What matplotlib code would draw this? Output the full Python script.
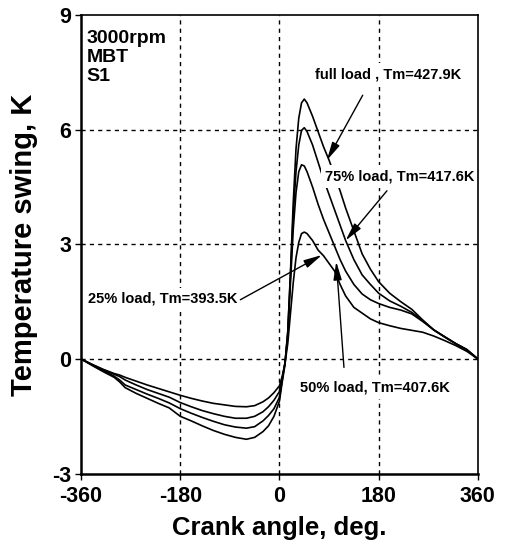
import matplotlib
matplotlib.use('Agg')
from matplotlib import pyplot as plt

plt.rcParams['font.family'] = ['Liberation Sans', 'DejaVu Sans']
plt.rcParams['font.weight'] = 'bold'
plt.rcParams['axes.unicode_minus'] = False

# crank angle points (deg)
angle = [-360, -340, -320, -300, -290, -280, -260, -240, -220, -200, -180, -160,
         -140, -120, -100, -80, -60, -45, -30, -20, -10, 0, 5, 10, 15, 20, 25, 30,
         35, 40, 45, 50, 60, 70, 80, 90, 100, 110, 120, 135, 150, 165, 180, 200,
         220, 240, 260, 280, 300, 320, 340, 360]

# temperature swing, K
full_load = [0, -0.17, -0.33, -0.48, -0.6, -0.75, -0.9, -1.03, -1.16, -1.28, -1.5, -1.62,
             -1.75, -1.87, -1.97, -2.05, -2.1, -2.05, -1.9, -1.75, -1.5, -1.1, -0.6, -0.15,
             0.7, 2.3, 4.1, 5.5, 6.3, 6.7, 6.8, 6.7, 6.35, 5.95, 5.55, 5.2, 4.8, 4.4, 3.95,
             3.35, 2.75, 2.35, 2.02, 1.72, 1.5, 1.3, 1.02, 0.76, 0.58, 0.4, 0.25, 0]
load_75 = [0, -0.15, -0.3, -0.45, -0.55, -0.68, -0.8, -0.92, -1.03, -1.15, -1.3, -1.42,
           -1.53, -1.63, -1.72, -1.78, -1.81, -1.77, -1.62, -1.48, -1.3, -1.0, -0.55, -0.1,
           0.7, 2.2, 3.8, 4.9, 5.6, 5.98, 6.05, 5.95, 5.6, 5.15, 4.7, 4.3, 3.9, 3.5, 3.1,
           2.6, 2.2, 1.95, 1.72, 1.52, 1.38, 1.22, 1.0, 0.76, 0.58, 0.4, 0.24, 0]
load_50 = [0, -0.15, -0.28, -0.4, -0.46, -0.55, -0.68, -0.8, -0.9, -1.0, -1.14, -1.25,
           -1.35, -1.43, -1.5, -1.55, -1.55, -1.5, -1.38, -1.25, -1.08, -0.85, -0.5, -0.1,
           0.6, 2.0, 3.4, 4.35, 4.9, 5.08, 5.05, 4.9, 4.5, 4.05, 3.65, 3.3, 2.95, 2.6, 2.3,
           1.95, 1.7, 1.55, 1.45, 1.35, 1.28, 1.18, 0.98, 0.76, 0.57, 0.4, 0.24, 0]
load_25 = [0, -0.14, -0.27, -0.38, -0.42, -0.48, -0.58, -0.68, -0.77, -0.86, -0.95, -1.03,
           -1.1, -1.16, -1.2, -1.24, -1.25, -1.22, -1.12, -1.02, -0.88, -0.7, -0.45, -0.12,
           0.4, 1.2, 2.0, 2.65, 3.05, 3.28, 3.32, 3.28, 3.1, 2.85, 2.7, 2.5, 2.3, 1.95, 1.65,
           1.35, 1.2, 1.05, 0.95, 0.87, 0.8, 0.75, 0.7, 0.6, 0.48, 0.35, 0.2, 0]

xticks = [-360, -180, 0, 180, 360]
yticks = [-3, 0, 3, 6, 9]

# label text, arrow tip (x, y), text anchor (x, y), alignment
labels = [
    ('full load , Tm=427.9K', (86, 5.2), (330, 7.45), 'right'),
    ('75% load, Tm=417.6K', (120, 3.1), (354, 4.78), 'right'),
    ('25% load, Tm=393.5K', (77, 2.72), (-76, 1.57), 'right'),
    ('50% load, Tm=407.6K', (103, 2.55), (38, -0.75), 'left'),
]
arrow_tails = [(151, 6.9), (195, 4.4), (-71, 1.55), (117, -0.22)]

fig = plt.figure(figsize=(5.10, 5.54), dpi=100)
ax = fig.add_axes([0.159, 0.145, 0.778, 0.828])

for series in [full_load, load_75, load_50, load_25]:
    ax.plot(angle, series, color='black', lw=1.2, zorder=3)

ax.set_xlim(-360, 360)
ax.set_ylim(-3, 9)
ax.set_xticks(xticks)
ax.set_yticks(yticks)
ax.tick_params(labelsize=15.5, length=4, width=1, direction='out')
ax.tick_params(axis='x', pad=5)
ax.tick_params(axis='y', pad=3)
for lab in ax.get_xticklabels() + ax.get_yticklabels():
    lab.set_fontweight('bold')

for gx in [-180, 0, 180]:
    ax.axvline(gx, color='black', lw=1, ls=(0, (3, 3)), zorder=1)
for gy in [0, 3, 6]:
    ax.axhline(gy, color='black', lw=1, ls=(0, (3, 3)), zorder=1)

ax.spines['left'].set_linewidth(1.8)
ax.spines['bottom'].set_linewidth(1.8)
ax.spines['top'].set_linewidth(1.2)
ax.spines['right'].set_linewidth(1.2)
for sp in ax.spines.values():
    sp.set_zorder(6)

ax.set_xlabel('Crank angle, deg.', fontsize=18.5, fontweight='bold', labelpad=6)
ax.set_ylabel('Temperature swing, K', fontsize=21, fontweight='bold', labelpad=10)

ax.text(-350, 8.6, '3000rpm\nMBT\nS1', fontsize=14, fontweight='bold',
        va='top', ha='left', linespacing=1.15)

for (txt, tip, pos, ha), tail in zip(labels, arrow_tails):
    ax.text(pos[0], pos[1], txt, fontsize=10.5, fontweight='bold', ha=ha,
            va='center', zorder=4,
            bbox=dict(facecolor='white', edgecolor='none', pad=3))
    ax.annotate('', xy=tip, xytext=tail, zorder=5,
                arrowprops=dict(arrowstyle='-|>,head_length=1.1,head_width=0.25',
                                color='black', lw=1, shrinkA=0, shrinkB=0))

fig.savefig('out.png', dpi=100)
